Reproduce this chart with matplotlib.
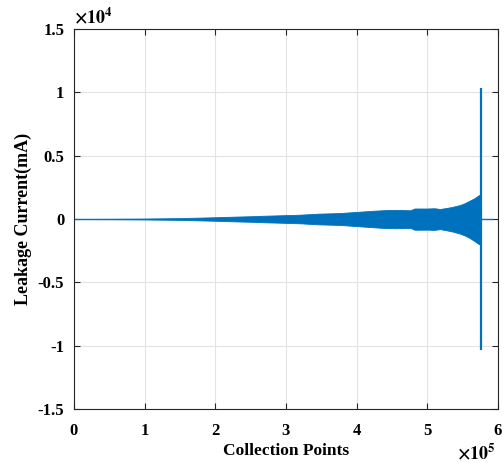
import matplotlib
matplotlib.use("Agg")
import matplotlib.pyplot as plt

# Envelope of the leakage current (x in collection points, mA)
env_x = [0, 50000, 100000, 150000, 178000, 200000, 230000, 250000, 270000, 290000,
         320000, 345000, 376000, 400000, 423000, 440000, 455000, 468000, 476000,
         482000, 500000, 510000, 518000, 528000, 535000, 546000, 553000, 560000,
         567000, 572000, 575500]
env_hi = [20, 25, 40, 70, 110, 140, 190, 220, 260, 290,
          340, 420, 470, 560, 650, 700, 720, 700, 690,
          830, 830, 850, 790, 880, 950, 1100, 1250, 1450,
          1650, 1850, 1950]
env_lo = [-20, -25, -40, -70, -110, -140, -190, -220, -260, -290,
          -340, -420, -470, -560, -650, -710, -730, -710, -700,
          -850, -840, -860, -800, -900, -980, -1150, -1300, -1500,
          -1750, -1950, -2050]

# Final transient spike and the quiet tail after it
spike_x = 575500
spike_lo, spike_hi = -10350, 10350
tail_x = [575500, 592000]
tail_y = [0, 0]

x_ticks = [0, 100000, 200000, 300000, 400000, 500000, 600000]
x_ticklabels = ["0", "1", "2", "3", "4", "5", "6"]
y_ticks = [-15000, -10000, -5000, 0, 5000, 10000, 15000]
y_ticklabels = ["-1.5", "-1", "-0.5", "0", "0.5", "1", "1.5"]

plt.rcParams["font.family"] = ["Liberation Serif", "DejaVu Serif"]
plt.rcParams["font.weight"] = "bold"
plt.rcParams["mathtext.fontset"] = "stix"

blue = "#0072BD"
fig = plt.figure(figsize=(5.04, 4.63), dpi=100)
ax = fig.add_axes([74 / 504, 54 / 463, 424 / 504, 380 / 463])

ax.fill_between(env_x, env_lo, env_hi, color=blue, linewidth=0.6, edgecolor=blue)
ax.vlines(spike_x, spike_lo, spike_hi, color=blue, linewidth=1.6)
ax.plot(tail_x, tail_y, color=blue, linewidth=1.0)

ax.set_xlim(0, 600000)
ax.set_ylim(-15000, 15000)
ax.set_xticks(x_ticks)
ax.set_xticklabels(x_ticklabels)
ax.set_yticks(y_ticks)
ax.set_yticklabels(y_ticklabels)

ax.grid(True, color="#e3e3e3", linewidth=0.8)
ax.set_axisbelow(True)
ax.tick_params(direction="in", top=True, right=True, length=4, width=0.8,
               colors="#262626", labelsize=12)
ax.tick_params(axis="x", pad=10)
ax.tick_params(axis="y", pad=7)
for sp in ax.spines.values():
    sp.set_color("#262626")
    sp.set_linewidth(0.8)
for lbl in ax.get_xticklabels() + ax.get_yticklabels():
    lbl.set_fontweight("bold")
    lbl.set_color("black")

ax.set_xlabel("Collection Points", fontsize=12.5, fontweight="bold", labelpad=3)
ax.set_ylabel("Leakage Current(mA)", fontsize=13, fontweight="bold", labelpad=4)

# MATLAB-style exponent labels
ax.text(0.0, 1.005, r"$\mathbf{\times 10^{4}}$", transform=ax.transAxes,
        fontsize=13, ha="left", va="bottom")
ax.text(0.995, -0.09, r"$\mathbf{\times 10^{5}}$", transform=ax.transAxes,
        fontsize=13, ha="right", va="top")

fig.savefig("out.png", dpi=100)
